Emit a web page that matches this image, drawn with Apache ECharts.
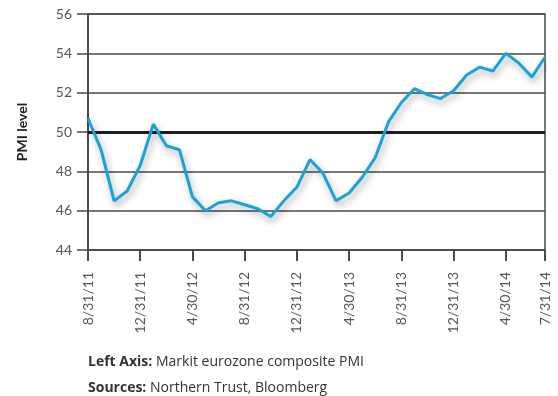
<!DOCTYPE html>
<html>
<head>
<meta charset="utf-8">
<script src="https://cdn.jsdelivr.net/npm/echarts@6/dist/echarts.min.js"></script>
<style>
  html, body { margin: 0; padding: 0; background: #fff; }
  #chart { width: 558px; height: 396px; }
</style>
</head>
<body>
<div id="chart"></div>
<script>
// Month-end dates, Aug 2011 – Jul 2014
const months = [
  '8/31/11','9/30/11','10/31/11','11/30/11','12/31/11',
  '1/31/12','2/29/12','3/31/12','4/30/12','5/31/12','6/30/12','7/31/12',
  '8/31/12','9/30/12','10/31/12','11/30/12','12/31/12',
  '1/31/13','2/28/13','3/31/13','4/30/13','5/31/13','6/30/13','7/31/13',
  '8/31/13','9/30/13','10/31/13','11/30/13','12/31/13',
  '1/31/14','2/28/14','3/31/14','4/30/14','5/31/14','6/30/14','7/31/14'
];

// Markit eurozone composite PMI
const pmi = [
  50.7, 49.1, 46.5, 47.0, 48.3,
  50.4, 49.3, 49.1, 46.7, 46.0, 46.4, 46.5,
  46.3, 46.1, 45.7, 46.5, 47.2,
  48.6, 47.9, 46.5, 46.9, 47.7, 48.7, 50.5,
  51.5, 52.2, 51.9, 51.7, 52.1,
  52.9, 53.3, 53.1, 54.0, 53.5, 52.8, 53.8
];

// Labelled tick dates on the time axis
const tickLabels = ['8/31/11','12/31/11','4/30/12','8/31/12','12/31/12','4/30/13','8/31/13','12/31/13','4/30/14','7/31/14'];

// Value axis range
const yMin = 44, yMax = 56, yStep = 2;
const expansionLine = 50;

const FONT = 'Lato, "Open Sans", sans-serif';
const NOTE_FONT = '"Open Sans", Lato, sans-serif';
const GRID_COLOR = '#4a4a4a';

const isLabelled = (idx) => tickLabels.includes(months[idx]);

const noteStyle = {
  fontFamily: NOTE_FONT, fontSize: 14, color: '#333', fontWeight: 'normal',
  rich: { b: { fontFamily: NOTE_FONT, fontSize: 14, fontWeight: 'bold', color: '#333' } }
};

const chart = echarts.init(document.getElementById('chart'), null, { renderer: 'canvas' });
chart.setOption({
  animation: false,
  backgroundColor: '#ffffff',
  grid: {
    left: 88, right: 13, top: 14, bottom: 146,
    show: true, borderColor: GRID_COLOR, borderWidth: 1.5, backgroundColor: 'transparent'
  },
  title: [
    { left: 83, top: 350, text: '{b|Left Axis:} Markit eurozone composite PMI', textStyle: noteStyle },
    { left: 83, top: 376, text: '{b|Sources:} Northern Trust, Bloomberg', textStyle: noteStyle }
  ],
  xAxis: {
    type: 'category',
    data: months,
    boundaryGap: false,
    axisLine: { show: true, lineStyle: { color: GRID_COLOR, width: 1.5 } },
    axisTick: {
      show: true, length: 11, inside: false,
      interval: isLabelled,
      lineStyle: { color: GRID_COLOR, width: 2 }
    },
    axisLabel: {
      interval: isLabelled,
      rotate: 90,
      margin: 22,
      fontFamily: FONT, fontSize: 14, color: '#555'
    },
    splitLine: { show: false }
  },
  yAxis: {
    type: 'value',
    min: yMin, max: yMax, interval: yStep,
    name: 'PMI level',
    nameLocation: 'middle',
    nameGap: 59,
    nameRotate: 90,
    nameTextStyle: { fontFamily: FONT, fontSize: 14, fontWeight: 'bold', color: '#222' },
    axisLine: { show: true, lineStyle: { color: GRID_COLOR, width: 2 } },
    axisTick: { show: true, length: 11, lineStyle: { color: GRID_COLOR, width: 1.5 } },
    axisLabel: { margin: 16, fontFamily: FONT, fontSize: 14, color: '#555' },
    splitLine: { show: true, lineStyle: { color: GRID_COLOR, width: 1.5 } }
  },
  series: [{
    type: 'line',
    data: pmi,
    symbol: 'none',
    smooth: false,
    lineStyle: {
      color: '#1ba1d9', width: 3,
      shadowColor: 'rgba(0,0,0,0.35)', shadowBlur: 7, shadowOffsetX: 2, shadowOffsetY: 4
    },
    z: 5,
    markLine: {
      silent: true,
      symbol: ['none', 'none'],
      label: { show: false },
      lineStyle: { color: '#1e1e1e', width: 3, type: 'solid' },
      data: [{ yAxis: expansionLine }],
      z: 3
    }
  }]
});
</script>
</body>
</html>
